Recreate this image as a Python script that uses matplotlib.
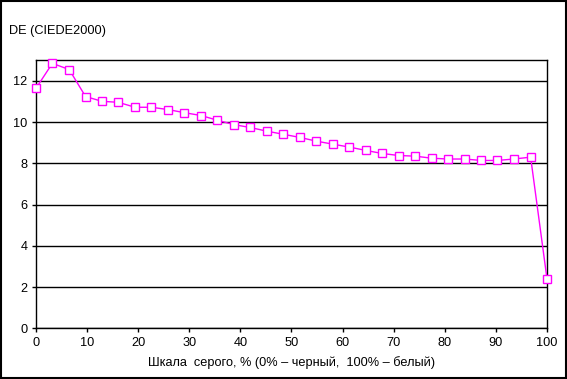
import matplotlib
matplotlib.use('Agg')
import matplotlib.pyplot as plt
from matplotlib.patches import Rectangle

plt.rcParams['font.family'] = ['Liberation Sans', 'DejaVu Sans']
plt.rcParams['font.size'] = 9.2

# Шкала серого, % и значения DE
gray_pct = [0, 3.2, 6.5, 9.7, 12.9, 16.1, 19.4, 22.6, 25.8, 29.0, 32.3, 35.5,
            38.7, 41.9, 45.2, 48.4, 51.6, 54.8, 58.1, 61.3, 64.5, 67.7, 71.0,
            74.2, 77.4, 80.6, 83.9, 87.1, 90.3, 93.5, 96.8, 100]
de_values = [11.64, 12.85, 12.55, 11.24, 11.01, 10.96, 10.72, 10.72, 10.61,
             10.46, 10.32, 10.09, 9.88, 9.74, 9.56, 9.41, 9.26, 9.08, 8.93,
             8.79, 8.63, 8.48, 8.38, 8.35, 8.25, 8.21, 8.21, 8.14, 8.14,
             8.21, 8.30, 2.40]

x_ticks = [0, 10, 20, 30, 40, 50, 60, 70, 80, 90, 100]
y_ticks = [0, 2, 4, 6, 8, 10, 12]

fig = plt.figure(figsize=(5.67, 3.79), dpi=100)
ax = fig.add_axes([0.0635, 0.1338, 0.9012, 0.7072])

ax.plot(gray_pct, de_values, color='#ff00ff', linewidth=1,
        marker='s', markersize=5.5, markerfacecolor='white',
        markeredgecolor='#ff00ff', markeredgewidth=1, clip_on=False, zorder=3)

ax.set_xlim(0, 100)
ax.set_ylim(0, 13)
ax.set_xticks(x_ticks)
ax.set_yticks(y_ticks)
ax.yaxis.grid(True, color='black', linewidth=1)
ax.set_axisbelow(True)
for s in ax.spines.values():
    s.set_color('black')
    s.set_linewidth(1)
ax.tick_params(axis='both', direction='out', length=3, width=1, colors='black',
               labelsize=9.2, pad=3)

ax.set_xlabel('Шкала  серого, % (0% – черный,  100% – белый)', fontsize=9.2,
              labelpad=5)
fig.text(9 / 567, 1 - 31 / 379, 'DE (CIEDE2000)', fontsize=9.2, va='center',
         ha='left')

# рамка вокруг всей диаграммы
fig.patches.append(Rectangle((0.001, 0.002), 0.997, 0.996, transform=fig.transFigure,
                             fill=False, edgecolor='black', linewidth=1.5))

fig.savefig('out.png', dpi=100)
